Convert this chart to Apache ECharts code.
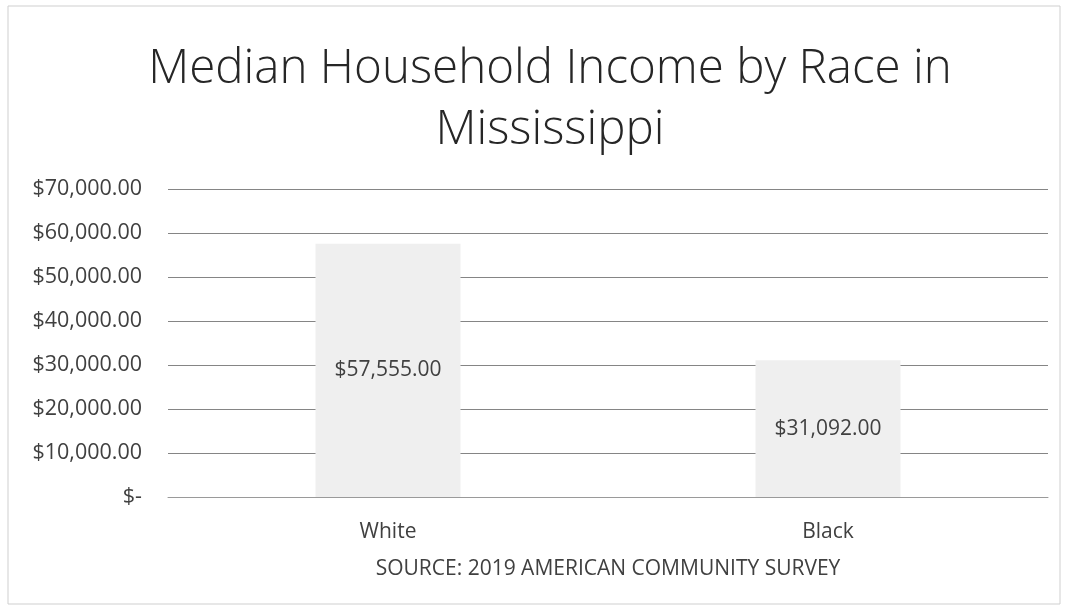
<!DOCTYPE html>
<html>
<head>
<meta charset="utf-8">
<script src="https://cdn.jsdelivr.net/npm/echarts@6/dist/echarts.min.js"></script>
<style>
  html, body { margin: 0; padding: 0; background: #ffffff; }
  #chart { width: 1067px; height: 611px; }
</style>
</head>
<body>
<div id="chart"></div>
<script>
// Median household income by race, Mississippi (ACS 2019)
const categories = ['White', 'Black'];
const incomes = [57555, 31092];
const yTicks = [0, 10000, 20000, 30000, 40000, 50000, 60000, 70000];

const FONT = '"Open Sans", "Noto Sans", sans-serif';

function money(v) {
  if (v === 0) return '$-';
  return '$' + v.toLocaleString('en-US', { minimumFractionDigits: 2, maximumFractionDigits: 2 });
}

const chart = echarts.init(document.getElementById('chart'), null, { renderer: 'canvas' });
chart.setOption({
  backgroundColor: '#ffffff',
  animation: false,
  graphic: [{
    type: 'rect',
    shape: { x: 8, y: 6, width: 1052, height: 598 },
    style: { fill: 'none', stroke: '#cfcfcf', lineWidth: 1 },
    silent: true
  }],
  title: {
    text: 'Median Household Income by Race in\nMississippi',
    left: 545,
    textAlign: 'center',
    top: 34,
    textStyle: {
      fontFamily: FONT,
      fontSize: 47.5,
      fontWeight: 300,
      color: '#262626',
      lineHeight: 61
    }
  },
  grid: { left: 168, right: 19, top: 189, bottom: 114, containLabel: false },
  xAxis: {
    type: 'category',
    data: categories,
    axisLine: { show: true, lineStyle: { color: '#9a9a9a' } },
    axisTick: { show: false },
    axisLabel: { fontFamily: FONT, fontSize: 21, color: '#404040', margin: 25 },
    name: 'SOURCE: 2019 AMERICAN COMMUNITY SURVEY',
    nameLocation: 'middle',
    nameGap: 62,
    nameTextStyle: { fontFamily: FONT, fontSize: 21, color: '#404040' }
  },
  yAxis: {
    type: 'value',
    min: yTicks[0],
    max: yTicks[yTicks.length - 1],
    interval: yTicks[1] - yTicks[0],
    axisLine: { show: false },
    axisTick: { show: false },
    splitLine: { show: true, lineStyle: { color: '#858585', width: 1 } },
    axisLabel: {
      fontFamily: FONT, fontSize: 21.5, color: '#404040', margin: 26,
      formatter: money
    }
  },
  series: [{
    type: 'bar',
    data: incomes,
    barWidth: 145,
    itemStyle: { color: '#efefef' },
    label: {
      show: true,
      position: 'inside',
      fontFamily: FONT,
      fontSize: 21,
      color: '#404040',
      formatter: p => money(p.value)
    }
  }]
});
</script>
</body>
</html>
